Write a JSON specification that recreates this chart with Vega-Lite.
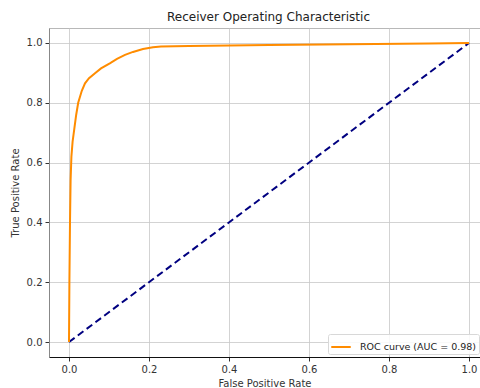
{
  "$schema": "https://vega.github.io/schema/vega-lite/v6.json",
  "autosize": {"type": "none"},
  "padding": {"left": 49, "top": 28, "right": 0, "bottom": 31},
  "width": 431,
  "height": 329,
  "background": "white",
  "title": {"text": "Receiver Operating Characteristic", "font": "DejaVu Sans", "fontSize": 12, "fontWeight": "normal", "color": "#222", "anchor": "middle", "offset": 4, "dx": 4},
  "config": {
    "view": {"stroke": "#b8b8b8", "strokeWidth": 1},
    "axis": {"labelFont": "DejaVu Sans", "titleFont": "DejaVu Sans", "labelFontSize": 10, "titleFontSize": 10, "titleFontWeight": "normal", "labelColor": "#333", "titleColor": "#333", "tickColor": "#333", "tickSize": 4, "gridColor": "#c8c8c8", "gridWidth": 0.8}
  },
  "datasets": {
    "roc": [
      {"fpr": 0.0, "tpr": 0.0, "series": "ROC curve (AUC = 0.98)"},
      {"fpr": 0.001, "tpr": 0.2, "series": "ROC curve (AUC = 0.98)"},
      {"fpr": 0.0025, "tpr": 0.4, "series": "ROC curve (AUC = 0.98)"},
      {"fpr": 0.004, "tpr": 0.54, "series": "ROC curve (AUC = 0.98)"},
      {"fpr": 0.006, "tpr": 0.62, "series": "ROC curve (AUC = 0.98)"},
      {"fpr": 0.009, "tpr": 0.67, "series": "ROC curve (AUC = 0.98)"},
      {"fpr": 0.013, "tpr": 0.71, "series": "ROC curve (AUC = 0.98)"},
      {"fpr": 0.018, "tpr": 0.76, "series": "ROC curve (AUC = 0.98)"},
      {"fpr": 0.023, "tpr": 0.8, "series": "ROC curve (AUC = 0.98)"},
      {"fpr": 0.032, "tpr": 0.84, "series": "ROC curve (AUC = 0.98)"},
      {"fpr": 0.04, "tpr": 0.865, "series": "ROC curve (AUC = 0.98)"},
      {"fpr": 0.05, "tpr": 0.882, "series": "ROC curve (AUC = 0.98)"},
      {"fpr": 0.065, "tpr": 0.899, "series": "ROC curve (AUC = 0.98)"},
      {"fpr": 0.08, "tpr": 0.915, "series": "ROC curve (AUC = 0.98)"},
      {"fpr": 0.102, "tpr": 0.932, "series": "ROC curve (AUC = 0.98)"},
      {"fpr": 0.12, "tpr": 0.947, "series": "ROC curve (AUC = 0.98)"},
      {"fpr": 0.14, "tpr": 0.96, "series": "ROC curve (AUC = 0.98)"},
      {"fpr": 0.16, "tpr": 0.97, "series": "ROC curve (AUC = 0.98)"},
      {"fpr": 0.185, "tpr": 0.98, "series": "ROC curve (AUC = 0.98)"},
      {"fpr": 0.21, "tpr": 0.986, "series": "ROC curve (AUC = 0.98)"},
      {"fpr": 0.23, "tpr": 0.988, "series": "ROC curve (AUC = 0.98)"},
      {"fpr": 0.3, "tpr": 0.99, "series": "ROC curve (AUC = 0.98)"},
      {"fpr": 0.5, "tpr": 0.993, "series": "ROC curve (AUC = 0.98)"},
      {"fpr": 0.7, "tpr": 0.996, "series": "ROC curve (AUC = 0.98)"},
      {"fpr": 0.9, "tpr": 0.998, "series": "ROC curve (AUC = 0.98)"},
      {"fpr": 1.0, "tpr": 1.0, "series": "ROC curve (AUC = 0.98)"}
    ],
    "diag": [
      {"fpr": 0.0, "tpr": 0.0},
      {"fpr": 1.0, "tpr": 1.0}
    ]
  },
  "layer": [
    {
      "data": {"name": "diag"},
      "mark": {"type": "line", "color": "#000080", "strokeWidth": 2, "strokeDash": [7, 4], "clip": true},
      "encoding": {
        "x": {"field": "fpr", "type": "quantitative", "scale": {"domain": [-0.05, 1.0275], "nice": false, "zero": false},
              "axis": {"title": "False Positive Rate", "values": [0, 0.2, 0.4, 0.6, 0.8, 1.0], "format": ".1f", "domainColor": "#111", "titlePadding": 4, "labelPadding": 3}},
        "y": {"field": "tpr", "type": "quantitative", "scale": {"domain": [-0.05, 1.05], "nice": false, "zero": false},
              "axis": {"title": "True Positive Rate", "values": [0, 0.2, 0.4, 0.6, 0.8, 1.0], "format": ".1f", "domainColor": "#888", "titlePadding": 6, "labelPadding": 3}}
      }
    },
    {
      "data": {"name": "roc"},
      "mark": {"type": "line", "strokeWidth": 2, "clip": true},
      "encoding": {
        "x": {"field": "fpr", "type": "quantitative"},
        "y": {"field": "tpr", "type": "quantitative"},
        "color": {"field": "series", "type": "nominal", "scale": {"range": ["#ff8c00"]},
                  "legend": {"title": null, "orient": "none", "legendX": 279, "legendY": 306, "symbolType": "stroke", "symbolSize": 380, "symbolStrokeWidth": 2, "labelFont": "DejaVu Sans", "labelFontSize": 9.5, "labelColor": "#222", "fillColor": "rgba(255,255,255,0.85)", "strokeColor": "#d8d8d8", "padding": 2, "cornerRadius": 2, "labelOffset": 8}}
      }
    }
  ]
}
